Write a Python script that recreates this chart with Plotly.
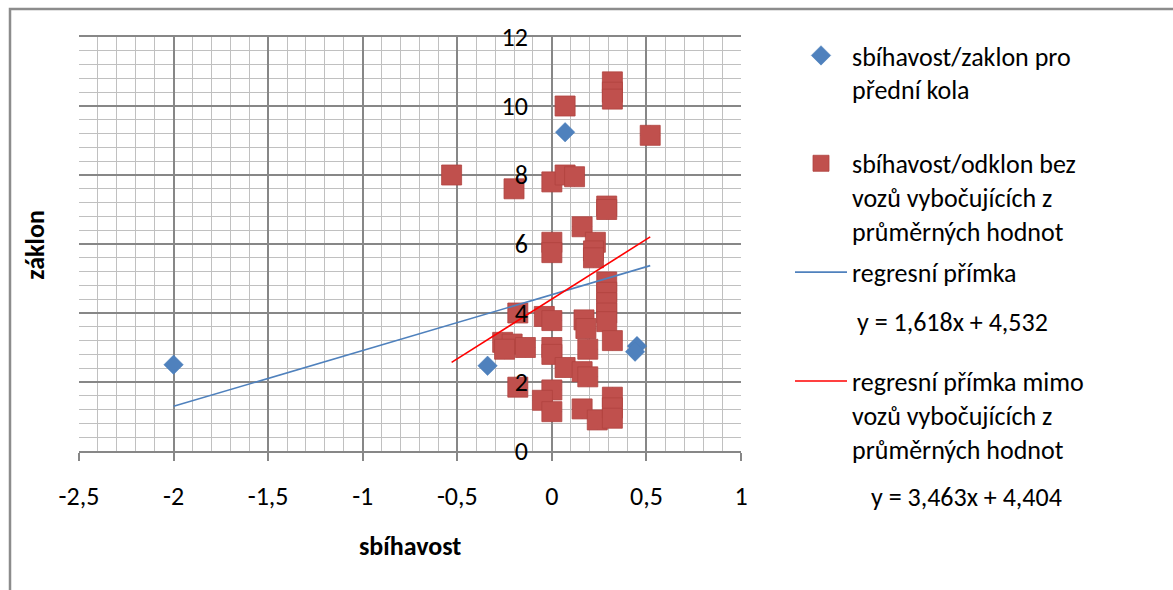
import plotly.graph_objects as go

# Front-wheel measurements: toe (sbíhavost) vs. caster (záklon).
# The first five are the cars outside the usual range; the rest are the
# "typical" cars shared with the second series.
outlier_x = [-2.0, -0.34, 0.07, 0.45, 0.44]
outlier_y = [2.5, 2.47, 9.24, 3.04, 2.88]

typical_x = [-0.53, -0.20, 0.00, 0.07, 0.12, 0.07, 0.32, 0.32, 0.32, 0.52,
             0.29, 0.29, 0.16, 0.00, 0.00, 0.23, 0.22, 0.22, 0.29, 0.29,
             0.29, 0.29, 0.29, 0.32, -0.18, -0.04, 0.00, 0.17, 0.18, 0.19,
             -0.26, -0.21, -0.14, -0.25, 0.00, 0.00, 0.07, 0.16, 0.19, -0.18,
             0.00, -0.05, 0.00, 0.16, 0.24, 0.32, 0.32, 0.32]
typical_y = [8.0, 7.6, 7.8, 8.0, 7.95, 10.0, 10.7, 10.4, 10.2, 9.15,
             7.1, 7.0, 6.5, 6.05, 5.75, 6.05, 5.8, 5.6, 4.9, 4.6,
             4.3, 4.0, 3.75, 3.2, 4.0, 3.9, 3.78, 3.8, 3.55, 2.95,
             3.15, 3.1, 3.0, 2.95, 3.0, 2.8, 2.42, 2.3, 2.15, 1.85,
             1.77, 1.47, 1.14, 1.22, 0.9, 1.56, 1.25, 0.95]

all_x = outlier_x + typical_x
all_y = outlier_y + typical_y

# Linear trendlines (slope, intercept)
trend_all = (1.618, 4.532)
trend_typical = (3.463, 4.404)

series_names = [
    "sbíhavost/zaklon pro<br>přední kola",
    "sbíhavost/odklon bez<br>vozů vybočujících z<br>průměrných hodnot",
    "regresní přímka",
    "regresní přímka mimo<br>vozů vybočujících z<br>průměrných hodnot",
]

x_ticks = [-2.5, -2.0, -1.5, -1.0, -0.5, 0.0, 0.5, 1.0]
x_tick_labels = ["-2,5", "-2", "-1,5", "-1", "-0,5", "0", "0,5", "1"]
y_ticks = [0, 2, 4, 6, 8, 10, 12]
y_tick_labels = ["0", "2", "4", "6", "8", "10", "12"]

BLUE = "#4F81BD"
RED = "#C0504D"
FONT = "Calibri, Carlito, Lato, sans-serif"
FS = 26


def eq_text(coef):
    s, b = coef
    return f"y = {s:.3f}x + {b:.3f}".replace(".", ",")


def trend_line(coef, xs):
    s, b = coef
    x0, x1 = min(xs), max(xs)
    return [x0, x1], [s * x0 + b, s * x1 + b]


fig = go.Figure()

fig.add_trace(go.Scatter(
    x=all_x, y=all_y, mode="markers", name=series_names[0],
    marker=dict(symbol="diamond", size=15, color=BLUE,
                line=dict(color="#4A7EBB", width=0.5)),
    legend="legend",
))
fig.add_trace(go.Scatter(
    x=typical_x, y=typical_y, mode="markers", name=series_names[1],
    marker=dict(symbol="square", size=20, color=RED,
                line=dict(color="#B0423F", width=0.8)),
    legend="legend2",
))

lx, ly = trend_line(trend_all, all_x)
fig.add_trace(go.Scatter(
    x=lx, y=ly, mode="lines", name=series_names[2],
    line=dict(color=BLUE, width=1.6), legend="legend3",
))
lx, ly = trend_line(trend_typical, typical_x)
fig.add_trace(go.Scatter(
    x=lx, y=ly, mode="lines", name=series_names[3],
    line=dict(color="#FF0000", width=1.6), legend="legend4",
))

# plot-area geometry in pixels
L, R, T, B = 79, 741, 37, 451.5
W, H = R - L, B - T


def px(x):
    return (x - L) / W


def py(y):
    return (B - y) / H


legend_common = dict(
    font=dict(family=FONT, size=FS, color="#000"),
    bgcolor="rgba(0,0,0,0)", borderwidth=0, valign="top",
    xanchor="left", yanchor="top", itemwidth=52, tracegroupgap=0,
)
fig.update_layout(
    legend=dict(x=px(790), y=py(32), **legend_common),
    legend2=dict(x=px(790), y=py(140), **legend_common),
    legend3=dict(x=px(790), y=py(249), **legend_common),
    legend4=dict(x=px(790), y=py(358), **legend_common),
)

fig.add_annotation(x=px(855), y=py(322), xref="paper", yref="paper",
                   text=eq_text(trend_all), showarrow=False,
                   xanchor="left", yanchor="middle",
                   font=dict(family=FONT, size=FS, color="#000"))
fig.add_annotation(x=px(869), y=py(498), xref="paper", yref="paper",
                   text=eq_text(trend_typical), showarrow=False,
                   xanchor="left", yanchor="middle",
                   font=dict(family=FONT, size=FS, color="#000"))

# axis titles
fig.add_annotation(x=px(35), y=py(245), xref="paper", yref="paper",
                   text="<b>záklon</b>", textangle=-90, showarrow=False,
                   xanchor="center", yanchor="middle",
                   font=dict(family=FONT, size=FS, color="#000"))
fig.add_annotation(x=px(410), y=py(547), xref="paper", yref="paper",
                   text="<b>sbíhavost</b>", showarrow=False,
                   xanchor="center", yanchor="middle",
                   font=dict(family=FONT, size=FS, color="#000"))

# outer chart frame
fig.add_shape(type="rect", xref="paper", yref="paper",
              x0=px(10), y0=py(700), x1=px(1300), y1=py(9),
              line=dict(color="#8C8C8C", width=2.5), layer="below")

MAJOR = "#878787"
MINOR = "#C0C0C0"

fig.update_xaxes(
    range=[-2.5, 1.0], tickvals=x_ticks, ticktext=x_tick_labels,
    showgrid=True, gridcolor=MAJOR, gridwidth=1.5, zeroline=False,
    minor=dict(dtick=0.1, tick0=0, showgrid=True, gridcolor=MINOR, gridwidth=1),
    ticks="outside", ticklen=8, tickwidth=1.5, tickcolor=MAJOR,
    showline=True, linecolor=MAJOR, linewidth=1.5, mirror=True,
    ticklabelstandoff=13,
    tickfont=dict(family=FONT, size=FS, color="#000"),
)
fig.update_yaxes(
    range=[0, 12], tickvals=y_ticks, ticktext=y_tick_labels,
    showgrid=True, gridcolor=MAJOR, gridwidth=1.5, zeroline=False,
    minor=dict(dtick=0.4, tick0=0, showgrid=True, gridcolor=MINOR, gridwidth=1),
    anchor="free", position=(0 - (-2.5)) / 3.5,
    ticks="", showline=False, ticklabelstandoff=24,
    tickfont=dict(family=FONT, size=FS, color="#000"),
)

fig.update_layout(
    width=1173, height=590,
    margin=dict(l=L, r=1173 - R, t=T, b=590 - B, pad=0),
    paper_bgcolor="white", plot_bgcolor="white",
    font=dict(family=FONT, size=FS, color="#000"),
    showlegend=True,
)

fig.write_html("out.html")
